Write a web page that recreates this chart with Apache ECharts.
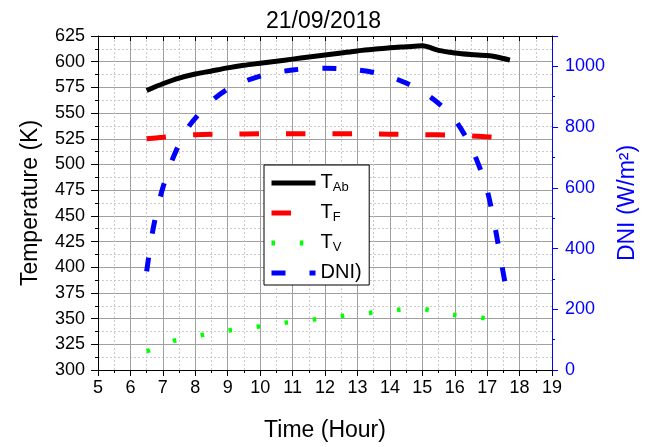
<!DOCTYPE html>
<html>
<head>
<meta charset="utf-8">
<script src="https://cdn.jsdelivr.net/npm/echarts@6/dist/echarts.min.js"></script>
<style>
html,body{margin:0;padding:0;background:#fff;}
#chart{width:647px;height:447px;}
</style>
</head>
<body>
<div id="chart"></div>
<script>
// ---- data (hour, value) ----
var tAbHours = [6.5, 7, 7.5, 8, 8.5, 9, 9.5, 10, 10.5, 11, 11.5, 12, 12.5, 13, 13.5, 14, 14.5, 15, 15.5, 16, 16.5, 17, 17.3, 17.7];
var tAbValues = [572, 578.5, 584, 588, 591, 594, 596.5, 598.5, 600.5, 602.5, 604.5, 606.5, 608.5, 610.5, 612, 613.5, 614.5, 615.5, 611, 608.5, 607, 606, 604.5, 601.5];

var tFHours = [6.5, 7, 7.5, 8, 9, 10, 11, 12, 13, 14, 15, 16, 16.7, 17.2, 17.6];
var tFValues = [525, 526.5, 528, 529, 529.5, 530, 530, 530, 530, 529.5, 529, 528.5, 527.5, 526.5, 525];

var tVHours = [6.5, 7.34, 8.2, 9.04, 9.9, 10.76, 11.62, 12.48, 13.34, 14.2, 15.03, 15.9, 16.76, 17.6];
var tVValues = [318, 328.5, 334, 338.5, 342, 346, 349, 352.5, 355.5, 358.5, 359.5, 354, 351, 347.5];

var dniHours = [6.5, 6.7, 6.95, 7.3, 7.8, 8.5, 9, 9.5, 10, 10.5, 11, 11.5, 12, 12.5, 13, 13.5, 14, 14.5, 15, 15.5, 16, 16.5, 16.95, 17.2, 17.4, 17.6, 17.65];
var dniValues = [325, 465, 582, 695, 802, 885, 925, 950, 968, 980, 988, 993, 994, 992, 988, 980, 966, 945, 917, 878, 825, 735, 611, 494, 376, 257, 225];

var seriesNames = ['T_Ab', 'T_F', 'T_V', 'DNI)'];
var legendLabels = {
  'T_Ab': '{t|T}{s|Ab}',
  'T_F': '{t|T}{s|F}',
  'T_V': '{t|T}{s|V}',
  'DNI)': '{t|DNI)}{s| }'
};
var chartTitle = '21/09/2018';
var xName = 'Time (Hour)';
var yLeftName = 'Temperature (K)';
var yRightName = 'DNI (W/m\u00B2)';

function pairs(xs, ys) { return xs.map(function (x, i) { return [x, ys[i]]; }); }

var FONT = 'Liberation Sans, Arial, sans-serif';
var chart = echarts.init(document.getElementById('chart'), null, { renderer: 'canvas' });

var option = {
  backgroundColor: '#ffffff',
  animation: false,
  textStyle: { fontFamily: FONT },
  title: {
    text: chartTitle,
    left: 'center',
    top: 5,
    textStyle: { fontFamily: FONT, fontSize: 23, fontWeight: 'normal', color: '#000' }
  },
  grid: { left: 98, right: 93, top: 36, bottom: 75, containLabel: false },
  legend: {
    orient: 'vertical',
    left: 264,
    top: 165,
    padding: [1, 4, 1, 5],
    itemGap: 2,
    itemWidth: 44,
    itemHeight: 14,
    backgroundColor: '#fff',
    borderColor: '#000',
    borderWidth: 1,
    borderRadius: 0,
    data: seriesNames,
    itemStyle: { opacity: 0 },
    lineStyle: { width: 5, cap: 'butt' },
    formatter: function (name) { return legendLabels[name]; },
    textStyle: {
      fontFamily: FONT,
      color: '#000',
      rich: {
        t: { fontFamily: FONT, fontSize: 20, lineHeight: 22, verticalAlign: 'top', color: '#000' },
        s: { fontFamily: FONT, fontSize: 13, lineHeight: 13, padding: [15, 0, 0, 0], verticalAlign: 'bottom', color: '#000' }
      }
    }
  },
  xAxis: [{
    type: 'value',
    min: 5, max: 19, interval: 1,
    position: 'bottom',
    name: xName,
    nameLocation: 'middle',
    nameGap: 49,
    nameTextStyle: { fontFamily: FONT, fontSize: 23, color: '#000' },
    axisLine: { show: true, onZero: false, lineStyle: { color: '#000', width: 1 } },
    axisTick: { show: true, inside: false, length: 6, lineStyle: { color: '#000' } },
    minorTick: { show: true, splitNumber: 2, length: 3, lineStyle: { color: '#000' } },
    axisLabel: { fontFamily: FONT, fontSize: 18, color: '#000', margin: 9 },
    splitLine: { show: true, lineStyle: { color: '#a0a0a0', width: 1 } },
    minorSplitLine: { show: true, lineStyle: { color: '#cacaca', width: 1, type: [2, 2] } }
  }, {
    type: 'value',
    min: 5, max: 19, interval: 1,
    position: 'top',
    axisLine: { show: true, onZero: false, lineStyle: { color: '#000', width: 1 } },
    axisTick: { show: true, inside: true, length: 5, lineStyle: { color: '#000' } },
    minorTick: { show: true, splitNumber: 2, length: 3, lineStyle: { color: '#000' } },
    axisLabel: { show: false },
    splitLine: { show: false }
  }],
  yAxis: [{
    type: 'value',
    min: 300, max: 625, interval: 25,
    position: 'left',
    name: yLeftName,
    nameLocation: 'middle',
    nameGap: 56,
    nameTextStyle: { fontFamily: FONT, fontSize: 23, color: '#000' },
    axisLine: { show: true, onZero: false, lineStyle: { color: '#000', width: 1 } },
    axisTick: { show: true, length: 7, lineStyle: { color: '#000' } },
    minorTick: { show: true, splitNumber: 2, length: 3, lineStyle: { color: '#000' } },
    axisLabel: { fontFamily: FONT, fontSize: 18, color: '#000', margin: 13 },
    splitLine: { show: true, lineStyle: { color: '#a0a0a0', width: 1 } },
    minorSplitLine: { show: true, lineStyle: { color: '#cacaca', width: 1, type: [2, 2] } }
  }, {
    type: 'value',
    min: 0, max: 1100, interval: 200,
    position: 'right',
    name: yRightName,
    nameLocation: 'middle',
    nameRotate: 90,
    nameGap: 58,
    nameTextStyle: { fontFamily: FONT, fontSize: 23, color: '#0000ff' },
    axisLine: { show: true, onZero: false, lineStyle: { color: '#0000ff', width: 1 } },
    axisTick: { show: true, length: 6, lineStyle: { color: '#0000ff' } },
    minorTick: { show: true, splitNumber: 2, length: 3, lineStyle: { color: '#0000ff' } },
    axisLabel: {
      fontFamily: FONT, fontSize: 18, color: '#0000ff', margin: 13, showMaxLabel: false,
      formatter: function (v) { return String(v); }
    },
    splitLine: { show: false },
    minorSplitLine: { show: false }
  }],
  series: [{
    name: 'T_Ab',
    type: 'line',
    xAxisIndex: 0, yAxisIndex: 0,
    data: pairs(tAbHours, tAbValues),
    symbol: 'none',
    smooth: 0.3,
    lineStyle: { color: '#000', width: 5, cap: 'butt' },
    itemStyle: { color: '#000' },
    z: 5
  }, {
    name: 'T_F',
    type: 'line',
    xAxisIndex: 0, yAxisIndex: 0,
    data: pairs(tFHours, tFValues),
    symbol: 'none',
    smooth: 0.3,
    lineStyle: { color: '#ff0000', width: 5, type: [19.5, 27], cap: 'butt' },
    itemStyle: { color: '#ff0000' },
    z: 4
  }, {
    name: 'T_V',
    type: 'line',
    xAxisIndex: 0, yAxisIndex: 0,
    data: pairs(tVHours, tVValues),
    symbol: 'none',
    lineStyle: { color: '#00ff00', width: 4.5, type: [3.5, 24.8], cap: 'butt' },
    itemStyle: { color: '#00ff00' },
    z: 4
  }, {
    name: 'DNI)',
    type: 'line',
    xAxisIndex: 0, yAxisIndex: 1,
    data: pairs(dniHours, dniValues),
    symbol: 'none',
    smooth: 0.3,
    lineStyle: { color: '#0000ff', width: 5, type: [14, 24], cap: 'butt' },
    itemStyle: { color: '#0000ff' },
    z: 3
  }]
};
chart.setOption(option);
</script>
</body>
</html>
